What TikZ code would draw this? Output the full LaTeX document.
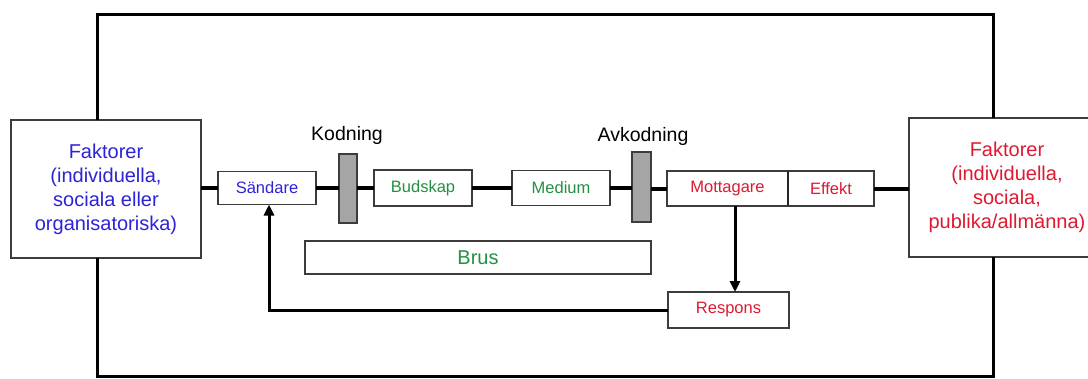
\documentclass[tikz,border=0pt]{standalone}
\usepackage{fontspec}
\setmainfont{Liberation Sans}
\usetikzlibrary{arrows.meta}
\definecolor{tblue}{RGB}{45,35,215}
\definecolor{tgreen}{RGB}{35,145,65}
\definecolor{tred}{RGB}{222,25,50}
\definecolor{bord}{RGB}{60,60,60}
\definecolor{barfill}{RGB}{165,165,165}
\begin{document}
\begin{tikzpicture}[x=1pt,y=-1pt,
  box/.style={draw=bord,line width=1.6pt,fill=white,inner sep=0pt,outer sep=0pt,align=center,font=\fontsize{16.5}{20}\selectfont},
  bigbox/.style={draw=bord,line width=1.6pt,fill=white,inner sep=0pt,outer sep=0pt,align=center,font=\fontsize{20}{24}\selectfont},
  bar/.style={draw=bord,line width=1.6pt,fill=barfill,inner sep=0pt,outer sep=0pt,minimum width=18pt,minimum height=69pt},
  lbl/.style={font=\fontsize{19.5}{23}\selectfont,inner sep=0pt},
  mainline/.style={line width=4pt,black},
  frame/.style={line width=3pt,black},
  fb/.style={line width=3pt,black},
  tip/.style={-{Triangle[length=11pt,width=10pt]}}
]
\useasboundingbox (0,0) rectangle (1088,378);
\coordinate (tl) at (97,14);
\coordinate (tr) at (993,14);
\coordinate (bl) at (97,376);
\coordinate (br) at (993,376);
\coordinate (ax) at (735,0);
\coordinate (fx) at (269,0);

\node[bigbox,text=tblue,minimum width=190pt,minimum height=138pt] (lbox) at (106,189) {Faktorer\\(individuella,\\sociala eller\\organisatoriska)};
\node[bigbox,text=tred,minimum width=196pt,minimum height=139pt] (rbox) at (1007,187.5) {Faktorer\\(individuella,\\sociala,\\publika/allmänna)};

\node[box,text=tblue,minimum width=98pt,minimum height=33pt] (sand) at (267,188) {Sändare};
\node[bar] (kod) at (348,188.5) {};
\node[box,text=tgreen,minimum width=98pt,minimum height=36pt] (bud) at (423,188) {Budskap};
\node[box,text=tgreen,minimum width=98pt,minimum height=35pt] (med) at (561,188) {Medium};
\node[bar,minimum width=19pt,minimum height=70pt] (avk) at (641.5,187) {};
\node[box,text=tred,minimum width=121pt,minimum height=35pt] (mott) at (727.5,188.5) {Mottagare};
\node[box,text=tred,minimum width=86pt,minimum height=35pt] (eff) at (831,188.5) {Effekt};
\node[box,text=tgreen,font=\fontsize{20}{24}\selectfont,minimum width=346pt,minimum height=33pt] (brus) at (478,257.5) {Brus};
\node[box,text=tred,minimum width=121pt,minimum height=36pt] (resp) at (728.5,310) {Respons};

\node[lbl] (kodl) at (347,135) {Kodning};
\node[lbl] (avkl) at (643,136) {Avkodning};

% frame
\draw[frame] (lbox.north -| tl) -- (tl) -- (tr) -- (rbox.north -| tr);
\draw[frame] (lbox.south -| bl) -- (bl) -- (br) -- (rbox.south -| br);

% main chain
\draw[mainline] (lbox.east |- sand.west) -- (sand.west);
\draw[mainline] (sand.east) -- (kod.west |- sand.east);
\draw[mainline] (kod.east |- bud.west) -- (bud.west);
\draw[mainline] (bud.east) -- (med.west);
\draw[mainline] (med.east) -- (avk.west |- med.east);
\draw[mainline] (avk.east |- mott.west) -- (mott.west);
\draw[mainline] (eff.east) -- (rbox.west |- eff.east);
\draw[line width=2.2pt,black!85] (mott.north east) -- (mott.south east);

% feedback
\draw[fb,tip] (mott.south -| ax) -- (resp.north -| ax);
\draw[fb,tip] (resp.west) -| (sand.south -| fx);
\end{tikzpicture}
\end{document}
